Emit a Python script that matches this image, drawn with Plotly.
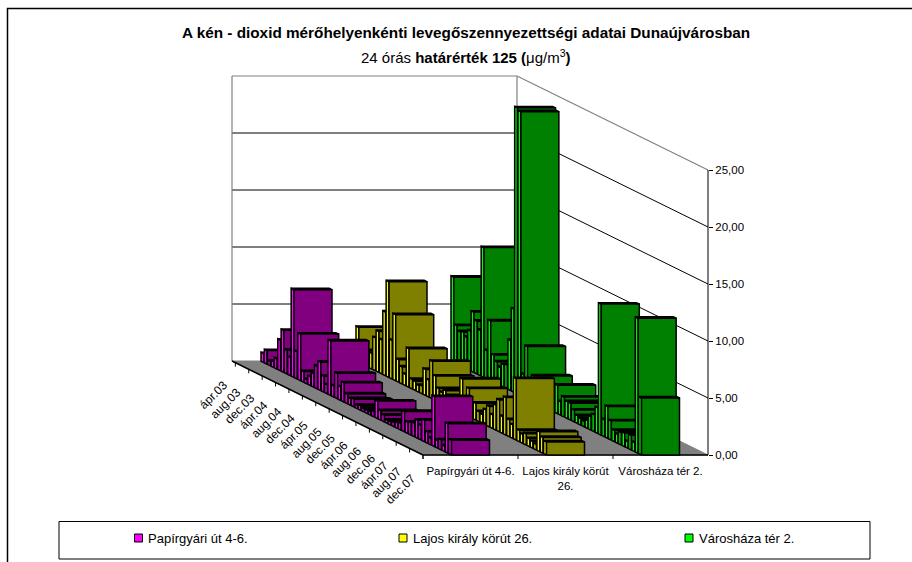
import plotly.graph_objects as go

W, H = 912, 562
# Screen scale of the oblique projection
PX_PER_SERIES = 95.0
PX_PER_UNIT = 11.4
FRONT_LEFT = (423.0, 455.0)
DEPTH_PX = (191.0, 94.0)

series_names = ["Papírgyári út 4-6.", "Lajos király körút 26.", "Városháza tér 2."]
axis_series_labels = ["Papírgyári út 4-6.", "Lajos király körút<br>26.", "Városháza tér 2."]
tick_months = ["ápr.03", "aug.03", "dec.03", "ápr.04", "aug.04", "dec.04", "ápr.05", "aug.05",
               "dec.05", "ápr.06", "aug.06", "dec.06", "ápr.07", "aug.07", "dec.07"]
value_ticks = [0, 5, 10, 15, 20, 25]
value_labels = ["0,00", "5,00", "10,00", "15,00", "20,00", "25,00"]

papirgyari = [0.8, 1.2, 0.4, 0.5, 0.9, 2.7, 3.7, 2.1, 1.6, 7.7, 2.4, 4.1, 0.95, 0.4, 0.8, 1.2, 2.0, 2.5, 1.4,
              0.8, 4.8, 1.0, 2.25, 1.2, 1.7, 0.87, 0.6, 0.7, 0.3, 0.4, 0.3, 0.3, 0.3, 0.5, 1.55, 0.85, 0.6, 0.3,
              0.3, 0.4, 0.5, 0.6, 1.8, 1.0, 1.1, 1.2, 1.6, 1.3, 1.9, 1.0, 0.6, 4.4, 0.7, 0.9, 0.5, 2.6, 1.3]
lajos = [3.1, 1.2, 1.0, 1.0, 1.4, 2.9, 3.6, 3.0, 5.6, 8.4, 3.4, 5.8, 2.0, 1.5, 1.0, 3.4, 0.85, 0.8, 0.6,
         0.7, 2.3, 1.5, 3.3, 2.15, 1.2, 1.0, 1.3, 1.0, 0.8, 0.7, 0.8, 3.05, 1.5, 2.5, 1.0, 1.5, 0.9, 0.8,
         1.35, 1.8, 1.2, 2.2, 2.8, 1.5, 3.3, 1.5, 1.2, 5.4, 1.0, 0.8, 1.0, 0.7, 0.6, 0.5, 1.75, 1.4, 1.15]
varoshaza = [7.5, 3.4, 3.0, 3.1, 2.8, 3.5, 5.3, 4.65, 4.0, 11.4, 2.5, 5.25, 2.4, 1.95, 1.6, 2.0, 2.1, 4.4, 7.3,
             25.1, 24.9, 2.0, 4.6, 1.8, 2.3, 1.5, 1.2, 1.0, 1.0, 0.9, 0.8, 2.5, 1.2, 1.75, 1.5, 1.5, 1.05, 0.7,
             0.6, 0.5, 0.7, 1.2, 1.5, 2.25, 11.5, 1.5, 2.8, 1.7, 1.0, 0.8, 1.1, 1.2, 0.6, 1.3, 0.8, 11.85, 5.0]
all_series = [papirgyari, lajos, varoshaza]

front_colors = ["#800080", "#808000", "#008000"]
side_colors = ["#FF00FF", "#FFFF00", "#00FF00"]
top_colors = ["#400040", "#404000", "#004000"]

N = len(papirgyari)
NS = len(all_series)
DX = DEPTH_PX[0] / PX_PER_SERIES
DY = DEPTH_PX[1] / PX_PER_UNIT


def P(s, t, v):
    """Oblique projection: s series units, t depth (0 front, 1 back), v value."""
    return s - t * DX, v + t * DY


def poly(points, fill, line="black", width=1.5):
    xs, ys = zip(*points)
    return go.Scatter(x=list(xs) + [xs[0]], y=list(ys) + [ys[0]], mode="lines", fill="toself",
                      fillcolor=fill, line=dict(color=line, width=width), hoverinfo="skip", showlegend=False)


def seg(a, b, color="black", width=1.0):
    return go.Scatter(x=[a[0], b[0]], y=[a[1], b[1]], mode="lines", line=dict(color=color, width=width),
                      hoverinfo="skip", showlegend=False)


fig = go.Figure()

# walls and gridlines
for v in value_ticks[1:-1]:
    fig.add_trace(seg(P(0, 1, v), P(NS, 1, v)))
    fig.add_trace(seg(P(NS, 1, v), P(NS, 0, v)))
fig.add_trace(seg(P(0, 1, 0), P(0, 1, 25), "#808080", 1.2))
fig.add_trace(seg(P(NS, 1, 0), P(NS, 1, 25), "#808080", 1.2))
fig.add_trace(seg(P(0, 1, 25), P(NS, 1, 25), "#808080", 1.2))
fig.add_trace(seg(P(NS, 1, 25), P(NS, 0, 25), "#808080", 1.2))

# floor
fig.add_trace(poly([P(0, 1, 0), P(NS, 1, 0), P(NS, 0, 0), P(0, 0, 0)], "#808080", "#808080", 1))
fig.add_trace(seg(P(0, 1, 0), P(0, 0, 0), "black", 1.5))
fig.add_trace(seg(P(0, 0, 0), P(NS, 0, 0), "black", 1.5))

# value axis line
fig.add_trace(seg(P(NS, 0, 0), P(NS, 0, 25), "black", 1.0))

# depth ticks and series ticks
for i in range(0, N, 4):
    t = (N - 1 - i) / N
    a = P(0, t, 0)
    fig.add_trace(seg(a, (a[0], a[1] - 4 / PX_PER_UNIT)))
for s in range(NS):
    a = P(s, 0, 0)
    fig.add_trace(seg(a, (a[0], a[1] - 4 / PX_PER_UNIT)))

# bars, painted from back to front
LEFT, RIGHT = 0.3, 0.7
THICK = 0.85 / N
for m in range(N):
    t0 = (N - 1 - m) / N
    t1 = t0 + THICK
    for s in range(NS):
        v = all_series[s][m]
        if not v:
            continue
        fig.add_trace(poly([P(s + LEFT, t0, 0), P(s + LEFT, t1, 0), P(s + LEFT, t1, v), P(s + LEFT, t0, v)],
                           side_colors[s]))
        fig.add_trace(poly([P(s + LEFT, t0, v), P(s + LEFT, t1, v), P(s + RIGHT, t1, v), P(s + RIGHT, t0, v)],
                           top_colors[s]))
        fig.add_trace(poly([P(s + LEFT, t0, 0), P(s + RIGHT, t0, 0), P(s + RIGHT, t0, v), P(s + LEFT, t0, v)],
                           front_colors[s]))

FONT = "Liberation Sans"
annotations = []
for k, label in enumerate(tick_months):
    t = (N - 1 - k * 4) / N
    x, y = P(0, t, 0)
    annotations.append(dict(x=x, y=y, xref="x", yref="y", text=label, showarrow=False, textangle=-45,
                            xanchor="right", yanchor="top", xshift=-2, yshift=-13,
                            font=dict(family=FONT, size=12, color="black")))

annotations.append(dict(x=466 / W, y=1 - 32 / H, xref="paper", yref="paper", showarrow=False, xanchor="center",
                        yanchor="middle", font=dict(family=FONT, size=15.3, color="black"),
                        text="<b>A kén - dioxid mérőhelyenkénti levegőszennyezettségi adatai Dunaújvárosban</b>"))
annotations.append(dict(x=466 / W, y=1 - 57 / H, xref="paper", yref="paper", showarrow=False, xanchor="center",
                        yanchor="middle", font=dict(family=FONT, size=15, color="black"),
                        text="24 órás <b>határérték 125 (</b>μg/m<sup>3</sup><b>)</b>"))

# legend, drawn as in the spreadsheet original
legend_text_x = [146, 411, 697]
legend_mark_x = [138.5, 403, 689]
for name, tx in zip(series_names, legend_text_x):
    annotations.append(dict(x=tx / W, y=1 - 538 / H, xref="paper", yref="paper", text=name, showarrow=False,
                            xanchor="left", yanchor="middle", font=dict(family=FONT, size=13, color="black")))

shapes = [
    dict(type="rect", xref="paper", yref="paper", x0=59 / W, x1=870 / W, y0=1 - 559 / H, y1=1 - 521.5 / H,
         line=dict(color="black", width=1), layer="below"),
    dict(type="rect", xref="paper", yref="paper", x0=7.5 / W, x1=1.05, y0=-0.05, y1=1 - 8.5 / H,
         line=dict(color="black", width=1.5), layer="below"),
]
for mx, c in zip(legend_mark_x, side_colors):
    shapes.append(dict(type="rect", xref="paper", yref="paper", x0=(mx - 4) / W, x1=(mx + 4) / W,
                       y0=1 - 542 / H, y1=1 - 534 / H, fillcolor=c, line=dict(color="black", width=1)))

fig.update_layout(
    width=W, height=H, margin=dict(l=0, r=0, t=0, b=0), autosize=False,
    paper_bgcolor="white", plot_bgcolor="white", showlegend=False,
    font=dict(family=FONT, size=11, color="black"),
    annotations=annotations, shapes=shapes,
    xaxis=dict(range=[-FRONT_LEFT[0] / PX_PER_SERIES, (W - FRONT_LEFT[0]) / PX_PER_SERIES],
               anchor="free", position=(H - FRONT_LEFT[1]) / H, showgrid=False, zeroline=False, showline=False,
               tickmode="array", tickvals=[0.5, 1.5, 2.5], ticktext=axis_series_labels,
               ticks="outside", ticklen=5, tickcolor="rgba(0,0,0,0)", tickangle=0,
               tickfont=dict(family=FONT, size=11.5, color="black"), fixedrange=True),
    yaxis=dict(range=[(FRONT_LEFT[1] - H) / PX_PER_UNIT, FRONT_LEFT[1] / PX_PER_UNIT],
               anchor="free", position=(FRONT_LEFT[0] + NS * PX_PER_SERIES) / W, side="right",
               showgrid=False, zeroline=False, showline=False,
               tickmode="array", tickvals=value_ticks, ticktext=value_labels,
               ticks="outside", ticklen=4, tickcolor="black",
               tickfont=dict(family=FONT, size=11.5, color="black"), fixedrange=True),
)
fig.write_html("out.html", config={"displayModeBar": False}, post_script="document.body.style.margin='0';")
